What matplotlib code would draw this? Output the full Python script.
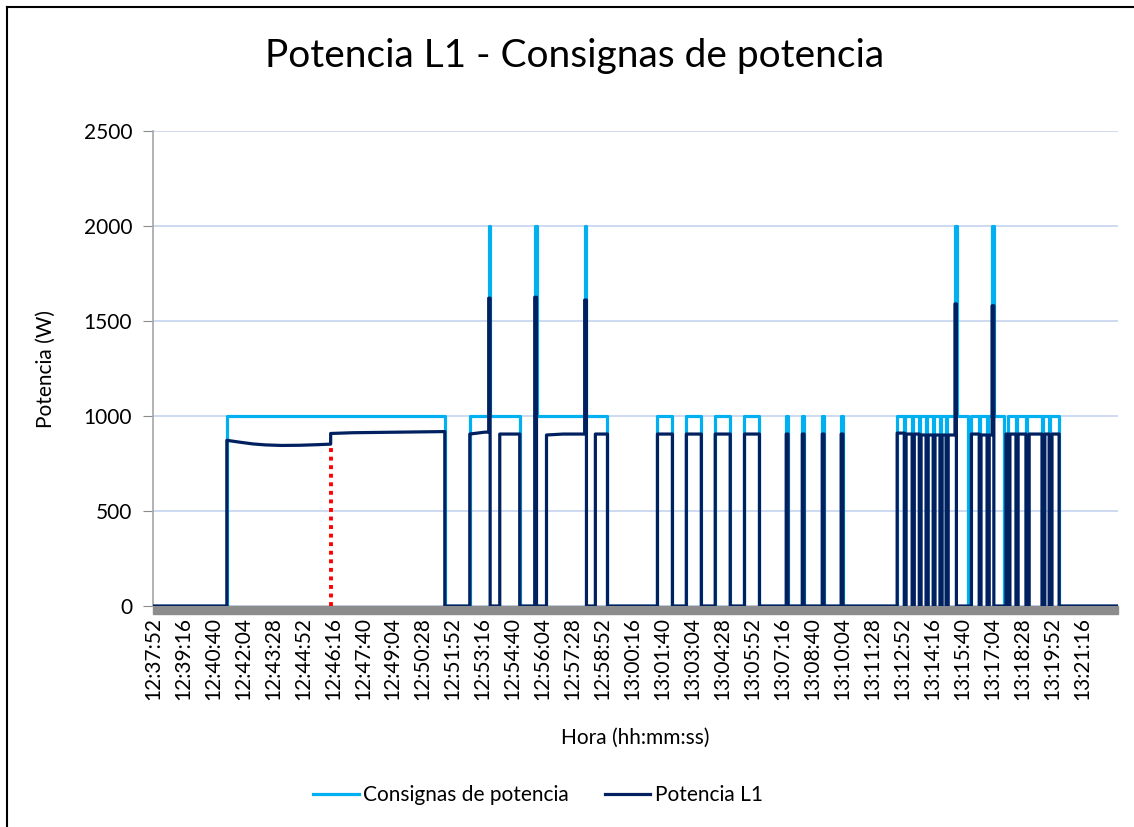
import matplotlib.pyplot as plt
import numpy as np
from matplotlib.patches import Rectangle
from matplotlib.lines import Line2D
from matplotlib.ticker import FuncFormatter

plt.rcParams['font.family'] = ['Lato', 'DejaVu Sans']

# hora de inicio del registro (eje x en segundos desde esta hora)
T0 = 12 * 3600 + 37 * 60 + 52
T_FIN = 2705
PASO_ETIQUETAS = 84  # 1:24 entre etiquetas

# Consignas de potencia: instante del cambio (s) y valor nuevo (W)
consigna_t = [0, 207, 818, 888, 941, 945, 1028, 1070, 1075, 1210, 1215, 1274,
              1414, 1456, 1495, 1537, 1576, 1618, 1658, 1700,
              1775, 1780, 1820, 1825, 1876, 1881, 1929, 1934,
              2086, 2106, 2109, 2128, 2131, 2148, 2151, 2167, 2170, 2187, 2190,
              2206, 2209, 2223, 2226, 2248, 2254, 2285, 2292, 2316, 2319,
              2338, 2341, 2352, 2358, 2386, 2396, 2419, 2422, 2447, 2450,
              2492, 2495, 2512, 2515, 2540, T_FIN]
consigna_w = [0, 1000, 0, 1000, 2000, 1000, 0, 2000, 1000, 2000, 1000, 0,
              1000, 0, 1000, 0, 1000, 0, 1000, 0,
              1000, 0, 1000, 0, 1000, 0, 1000, 0,
              1000, 0, 1000, 0, 1000, 0, 1000, 0, 1000, 0, 1000,
              0, 1000, 0, 1000, 2000, 1000, 0, 1000, 0, 1000,
              0, 1000, 2000, 1000, 0, 1000, 0, 1000, 0, 1000,
              0, 1000, 0, 1000, 0, 0]

# Potencia medida en L1
potencia_t = [0, 207, 244, 280, 314, 360, 412, 460, 496, 498, 560, 700, 815, 818,
              888, 930, 941, 945, 972, 1028, 1070, 1075, 1103, 1150, 1210, 1215,
              1240, 1274, 1414, 1456, 1495, 1537, 1576, 1618, 1658, 1700,
              1775, 1780, 1820, 1825, 1876, 1881, 1929, 1934,
              2086, 2106, 2111, 2128, 2134, 2148, 2153, 2167, 2173, 2187, 2192,
              2206, 2212, 2223, 2229, 2248, 2252, 2294, 2316, 2321, 2338, 2344,
              2352, 2357, 2391, 2397, 2402, 2419, 2425, 2447, 2456, 2492, 2500,
              2512, 2520, 2540, T_FIN]
potencia_w = [0, 872, 862, 853, 848, 845, 846, 849, 852, 908, 912, 915, 918, 0,
              905, 915, 1620, 0, 905, 0, 1625, 0, 900, 905, 1610, 0,
              905, 0, 905, 0, 905, 0, 905, 0, 905, 0,
              905, 0, 905, 0, 905, 0, 905, 0,
              910, 0, 905, 0, 905, 0, 900, 0, 900, 0, 900,
              0, 900, 0, 900, 1590, 0, 905, 0, 900, 0, 900,
              1580, 0, 905, 0, 905, 0, 905, 0, 905, 0, 905,
              0, 905, 0, 0]

# marca vertical (cambio de consigna)
marca_t = 498
marca_w = 840


def hora(x, pos=None):
    s = int(round(T0 + x))
    return "%d:%02d:%02d" % (s // 3600, (s % 3600) // 60, s % 60)


def trazo(t, w, umbral=40):
    # saltos grandes en vertical, variaciones pequenas en rampa
    xs, ys = [t[0]], [w[0]]
    for i in range(1, len(t)):
        if abs(w[i] - w[i - 1]) > umbral:
            xs.append(t[i])
            ys.append(w[i - 1])
        xs.append(t[i])
        ys.append(w[i])
    return xs, ys


fig = plt.figure(figsize=(11.34, 8.27), dpi=100)
ax = fig.add_axes([153 / 1134, 1 - 606 / 827, 965 / 1134, 475 / 827])

ax.step(consigna_t, consigna_w, where='post', color='#00B0F0', lw=2.3,
        label='Consignas de potencia', zorder=3)
px, py = trazo(potencia_t, potencia_w)
ax.plot(px, py, color='#002060', lw=2.3, label='Potencia L1', zorder=4)
ax.plot([marca_t, marca_t], [0, marca_w], color='#FF0000', lw=2.8,
        linestyle=(0, (1, 1.2)), zorder=5)

ax.set_xlim(0, T_FIN)
ax.set_ylim(0, 2500)
ax.set_yticks(np.arange(0, 2501, 500))
ax.set_xticks(np.arange(0, T_FIN - 60, PASO_ETIQUETAS))
ax.xaxis.set_major_formatter(FuncFormatter(hora))
ax.tick_params(axis='x', rotation=90, length=0, labelsize=15, pad=8)
ax.tick_params(axis='y', length=7, color='#8C8C8C', labelsize=15, pad=8)

ax.grid(axis='y', color='#C5D3EC', lw=1.2)
ax.set_axisbelow(True)
for s in ['top', 'right', 'bottom']:
    ax.spines[s].set_visible(False)
ax.spines['left'].set_color('#A6A6A6')
ax.spines['left'].set_linewidth(1.2)

# eje horizontal gris grueso
ax.add_patch(Rectangle((0, -8 / 475), 1, 8 / 475, transform=ax.transAxes,
                       color='#8C8C8C', clip_on=False, zorder=2))

ax.set_xlabel('Hora (hh:mm:ss)', fontsize=15, labelpad=20)
ax.set_ylabel('Potencia (W)', fontsize=15, labelpad=20)
fig.text(575 / 1134, 1 - 56 / 827, 'Potencia L1 - Consignas de potencia',
         fontsize=28, ha='center', va='center')

fig.legend(handles=[Line2D([], [], color='#00B0F0', lw=2.3),
                    Line2D([], [], color='#002060', lw=2.3)],
           labels=['Consignas de potencia', 'Potencia L1'],
           loc='center', bbox_to_anchor=(538 / 1134, 1 - 795 / 827), ncol=2,
           frameon=False, fontsize=15, handlelength=2.2, handletextpad=0.2,
           columnspacing=1.7)

# marco del grafico
fig.add_artist(Line2D([7 / 1134, 7 / 1134], [0, 1 - 7 / 827], color='black',
                      lw=1.5, transform=fig.transFigure))
fig.add_artist(Line2D([7 / 1134, 1], [1 - 7 / 827, 1 - 7 / 827], color='black',
                      lw=1.5, transform=fig.transFigure))

fig.savefig('out.png', dpi=100)
